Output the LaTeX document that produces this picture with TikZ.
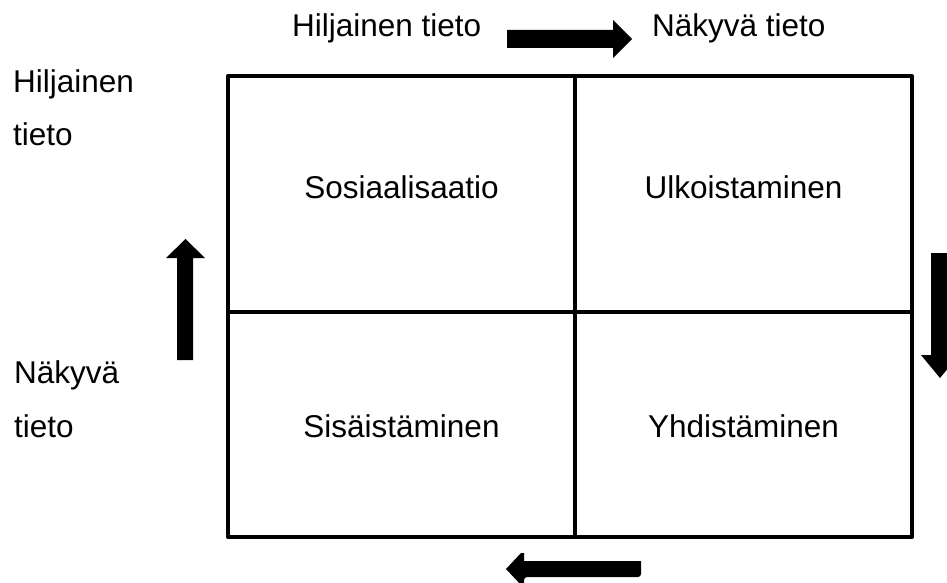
\documentclass[tikz,border=0pt]{standalone}
\usepackage{fontspec}
\setmainfont{Liberation Sans}
\begin{document}
\begin{tikzpicture}[x=1pt,y=-1pt,
  lbl/.style={inner sep=0pt,font=\fontsize{31.5}{38}\selectfont},
  gridline/.style={line width=4pt,line cap=rect},
  fatarrow/.style={fill=black,draw=none}]
\useasboundingbox (0,0) rectangle (947,583);
\begin{scope}
\clip (0,0) rectangle (947,583);
% grid
\draw[gridline,line join=round] (228,76) rectangle (912,537);
\draw[gridline] (575,76) -- (575,537);
\draw[gridline] (228,312) -- (912,312);
% arrows
\fill[fatarrow] (507,30) -- (613,30) -- (613,20) -- (632,39) -- (613,58) -- (613,48) -- (507,48) -- cycle;
\fill[fatarrow] (177,360) -- (177,258) -- (166,258) -- (185.5,239) -- (205,258) -- (193,258) -- (193,360) -- cycle;
\fill[fatarrow] (931,253) -- (949,253) -- (949,355) -- (959,355) -- (940,378) -- (921,355) -- (931,355) -- cycle;
\fill[fatarrow,rounded corners=3pt] (641,561) -- (641,577) -- (524,577) [sharp corners] -- (524,585) -- (521,585) -- (506,569) -- (521,553) -- (524,553) -- (524,561) -- cycle;
\end{scope}
% labels
\node[lbl,anchor=base west] (tl) at (292,37) {Hiljainen tieto};
\node[lbl,anchor=base west] (tr) at (652,37) {Näkyvä tieto};
\node[lbl,anchor=base west] (l1) at (13,93) {Hiljainen};
\node[lbl,anchor=base west] (l2) at (13,146) {tieto};
\node[lbl,anchor=base west] (l3) at (14,383) {Näkyvä};
\node[lbl,anchor=base west] (l4) at (14,437) {tieto};
% cells
\node[lbl,anchor=base] (c1) at (401.5,198) {Sosiaalisaatio};
\node[lbl,anchor=base] (c2) at (743.5,198) {Ulkoistaminen};
\node[lbl,anchor=base] (c3) at (401.5,437) {Sisäistäminen};
\node[lbl,anchor=base] (c4) at (743.5,437) {Yhdistäminen};
\end{tikzpicture}
\end{document}
